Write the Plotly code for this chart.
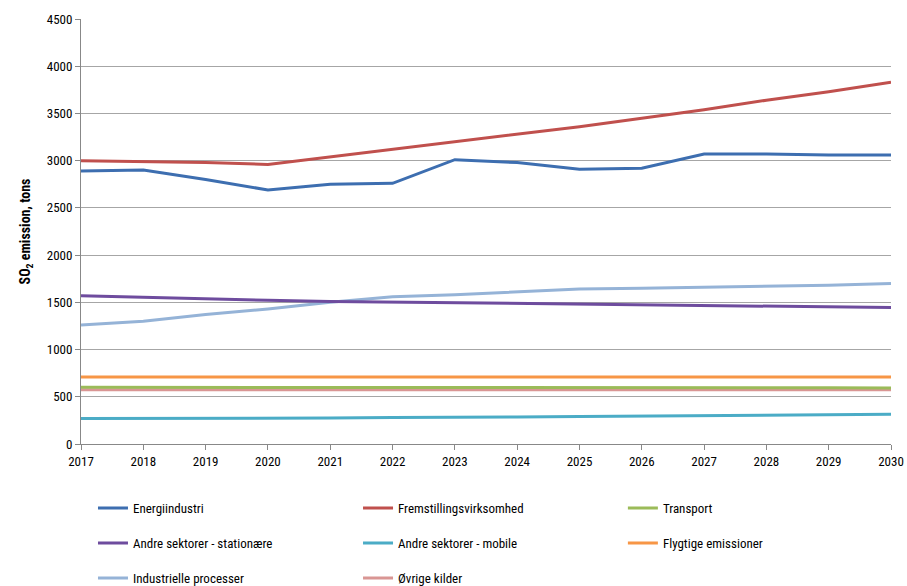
import plotly.graph_objects as go

years = list(range(2017, 2031))

energi = [2890, 2900, 2800, 2690, 2750, 2760, 3010, 2980, 2910, 2920, 3070, 3070, 3060, 3060]
fremstilling = [3000, 2990, 2980, 2960, 3040, 3120, 3200, 3280, 3360, 3450, 3540, 3640, 3730, 3830]
transport = [600, 600, 600, 600, 600, 600, 600, 600, 600, 600, 600, 598, 595, 592]
andre_stat = [1570, 1552, 1537, 1522, 1510, 1503, 1497, 1490, 1480, 1472, 1470, 1460, 1453, 1445]
andre_mobile = [270, 270, 270, 270, 275, 280, 280, 285, 290, 295, 300, 302, 307, 315]
flygtige = [710, 710, 710, 710, 710, 710, 710, 710, 710, 710, 710, 710, 710, 710]
industrielle = [1260, 1300, 1370, 1430, 1500, 1560, 1580, 1610, 1640, 1650, 1660, 1670, 1680, 1700]
ovrige = [575, 575, 575, 575, 575, 575, 575, 575, 575, 575, 575, 575, 575, 575]

# name, values, colour, legend column
series = [
    ("Energiindustri", energi, "#3D6EB0", "legend"),
    ("Fremstillingsvirksomhed", fremstilling, "#C0504D", "legend2"),
    ("Transport", transport, "#9BBB59", "legend3"),
    ("Andre sektorer - stationære", andre_stat, "#6E4C9E", "legend"),
    ("Andre sektorer - mobile", andre_mobile, "#4BACC6", "legend2"),
    ("Flygtige emissioner", flygtige, "#F79646", "legend3"),
    ("Industrielle processer", industrielle, "#95B3D7", "legend"),
    ("Øvrige kilder", ovrige, "#D99694", "legend2"),
]

fig = go.Figure()
draw_order = [7, 2, 5, 4, 6, 3, 1, 0]
for i in draw_order:
    name, vals, col, lg = series[i]
    fig.add_trace(go.Scatter(
        x=years, y=vals, name=name, mode="lines",
        line=dict(color=col, width=3),
        legend=lg, legendrank=i, legendgroup=name,
    ))

fam = "Liberation Sans Narrow, Roboto Condensed, Arial Narrow, Liberation Sans, sans-serif"
font = dict(family=fam, size=13, color="#000000")
legcommon = dict(orientation="v", yanchor="top", y=-0.1156, xanchor="left",
                 font=dict(family=fam, size=13, color="#000"),
                 bgcolor="rgba(0,0,0,0)", itemwidth=30, traceorder="grouped",
                 tracegroupgap=15)

fig.update_layout(
    width=907, height=586,
    margin=dict(l=81, r=16, t=19, b=142, autoexpand=False),
    paper_bgcolor="white", plot_bgcolor="white",
    font=font,
    showlegend=True,
    legend=dict(x=0.0148, **legcommon),
    legend2=dict(x=0.342, **legcommon),
    legend3=dict(x=0.669, **legcommon),
    xaxis=dict(range=[2017, 2030], tickmode="array", tickvals=years,
               ticktext=[str(y) for y in years], showgrid=False,
               showline=True, linecolor="#888888", linewidth=1,
               ticks="outside", ticklen=5, tickcolor="#888888",
               tickfont=dict(size=13), zeroline=False),
    yaxis=dict(range=[0, 4500], dtick=500, showgrid=True, gridcolor="#A6A6A6", gridwidth=1,
               showline=True, linecolor="#888888", linewidth=1,
               ticks="outside", ticklen=5, tickcolor="#888888",
               tickfont=dict(size=13), zeroline=False,
               title=dict(text="<b>SO<sub>2</sub> emission, tons</b>", font=dict(size=14), standoff=12)),
)

fig.write_html("out.html")
